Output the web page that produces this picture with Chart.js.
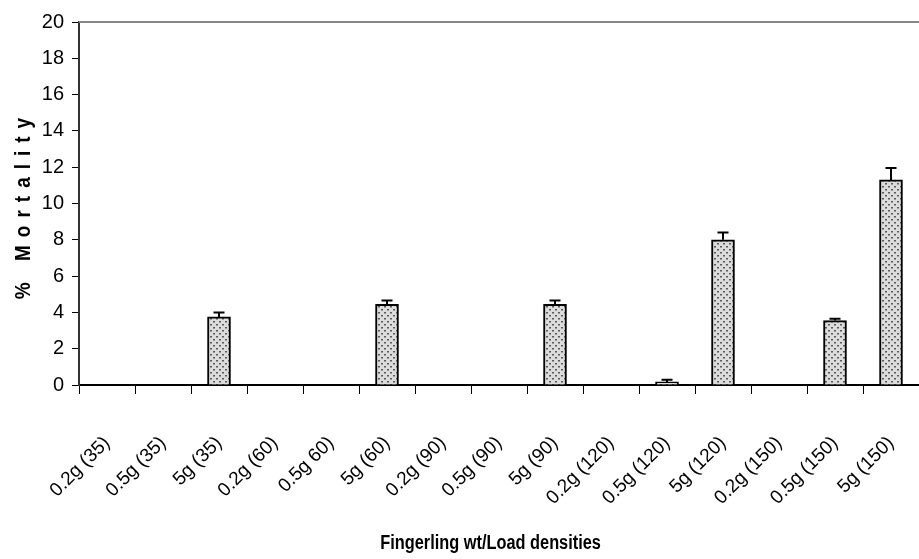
<!DOCTYPE html>
<html>
<head>
<meta charset="utf-8">
<script src="https://cdn.jsdelivr.net/npm/chart.js@4.4.1/dist/chart.umd.min.js"></script>
<style>
  html, body { margin: 0; padding: 0; background: #fff; }
  #wrap { width: 919px; height: 559px; position: relative; }
</style>
</head>
<body>
<div id="wrap"><canvas id="mortChart"></canvas></div>
<script>
// data
var labels = ['0.2g (35)', '0.5g (35)', '5g (35)', '0.2g (60)', '0.5g 60)', '5g (60)',
  '0.2g (90)', '0.5g (90)', '5g (90)', '0.2g (120)', '0.5g (120)', '5g (120)',
  '0.2g (150)', '0.5g (150)', '5g (150)'];
var mortality = [0, 0, 3.75, 0, 0, 4.45, 0, 0, 4.45, 0, 0.17, 8.0, 0, 3.55, 11.3];
var errUp = [0, 0, 0.25, 0, 0, 0.2, 0, 0, 0.2, 0, 0.12, 0.4, 0, 0.1, 0.65];
var yTicks = [0, 2, 4, 6, 8, 10, 12, 14, 16, 18, 20];
var xTitle = 'Fingerling wt/Load densities';
var yTitle = '% Mortality';

var FONT = "'Liberation Sans', Arial, sans-serif";

// dotted fill like the original
function dotPattern() {
  var c = document.createElement('canvas');
  c.width = 6; c.height = 6;
  var g = c.getContext('2d');
  g.fillStyle = '#dcdcdc';
  g.fillRect(0, 0, 6, 6);
  g.fillStyle = '#5a5a5a';
  g.fillRect(0, 0, 2, 1);
  g.fillRect(3, 3, 2, 1);
  g.fillStyle = '#9a9a9a';
  g.fillRect(0, 1, 2, 1);
  g.fillRect(3, 4, 2, 1);
  return g.createPattern(c, 'repeat');
}

var errorBars = {
  id: 'errorBars',
  afterDatasetsDraw: function(chart) {
    var ctx = chart.ctx;
    var meta = chart.getDatasetMeta(0);
    var y = chart.scales.y;
    ctx.save();
    ctx.strokeStyle = '#000';
    ctx.lineWidth = 2;
    meta.data.forEach(function(bar, i) {
      if (!errUp[i]) return;
      var top = y.getPixelForValue(mortality[i] + errUp[i]);
      ctx.beginPath();
      ctx.moveTo(bar.x, bar.y);
      ctx.lineTo(bar.x, top);
      ctx.moveTo(bar.x - 5.5, top);
      ctx.lineTo(bar.x + 5.5, top);
      ctx.stroke();
    });
    ctx.restore();
  }
};

var frame = {
  id: 'frame',
  beforeDatasetsDraw: function(chart) {
    var ctx = chart.ctx, a = chart.chartArea;
    ctx.save();
    ctx.strokeStyle = '#888';
    ctx.lineWidth = 2;
    ctx.beginPath();
    ctx.moveTo(a.left, a.top);
    ctx.lineTo(a.right, a.top);
    ctx.stroke();
    ctx.restore();
  },
  afterDraw: function(chart) {
    var ctx = chart.ctx, a = chart.chartArea;
    // y title, tall narrow bold with wide spacing
    ctx.save();
    ctx.translate(24, (a.top + a.bottom) / 2 + 5);
    ctx.rotate(-Math.PI / 2);
    ctx.scale(1, 1.2);
    ctx.font = 'bold 19px ' + FONT;
    ctx.letterSpacing = '8px';
    ctx.fillStyle = '#000';
    ctx.textAlign = 'left';
    ctx.textBaseline = 'middle';
    var w = ctx.measureText(yTitle).width - 8;
    ctx.fillText(yTitle, -w / 2, 0);
    ctx.restore();
    // x title, condensed bold
    ctx.save();
    ctx.translate(a.left + (a.right - a.left) * 0.49, 549);
    ctx.scale(0.86, 1.05);
    ctx.font = 'bold 19px ' + FONT;
    ctx.fillStyle = '#000';
    ctx.textAlign = 'center';
    ctx.textBaseline = 'alphabetic';
    ctx.fillText(xTitle, 0, 0);
    ctx.restore();
  }
};

const data = {
  labels: labels,
  datasets: [{
    label: yTitle,
    data: mortality,
    backgroundColor: dotPattern(),
    borderColor: '#000',
    borderWidth: 2,
    borderSkipped: 'bottom',
    barThickness: 23
  }]
};

const config = {
  type: 'bar',
  data,
  options: {
    responsive: false,
    animation: false,
    layout: { padding: { top: 22, right: 0, left: 0, bottom: 0 } },
    plugins: { legend: { display: false }, tooltip: { enabled: false } },
    scales: {
      x: {
        offset: true,
        grid: { offset: true, drawOnChartArea: false, color: '#000', tickLength: 9, lineWidth: 1 },
        border: { color: '#000', width: 2 },
        ticks: { color: '#000', font: { family: FONT, size: 19 }, maxRotation: 45, minRotation: 45, autoSkip: false, padding: 38 },
        afterFit: function(s) { s.height = 174; s.paddingRight = 0; s.paddingLeft = 0; }
      },
      y: {
        min: 0, max: 20,
        afterBuildTicks: function(s) { s.ticks = yTicks.map(function(v) { return { value: v }; }); },
        grid: { drawOnChartArea: false, color: '#000', tickLength: 7 },
        border: { color: '#333', width: 2 },
        ticks: { color: '#000', font: { family: FONT, size: 20 }, padding: 8 },
        afterFit: function(s) { s.width = 79; }
      }
    }
  },
  plugins: [frame, errorBars]
};

var canvas = document.getElementById('mortChart');
canvas.width = 919; canvas.height = 559;
var myChart = new Chart(canvas, config);
</script>
</body>
</html>
